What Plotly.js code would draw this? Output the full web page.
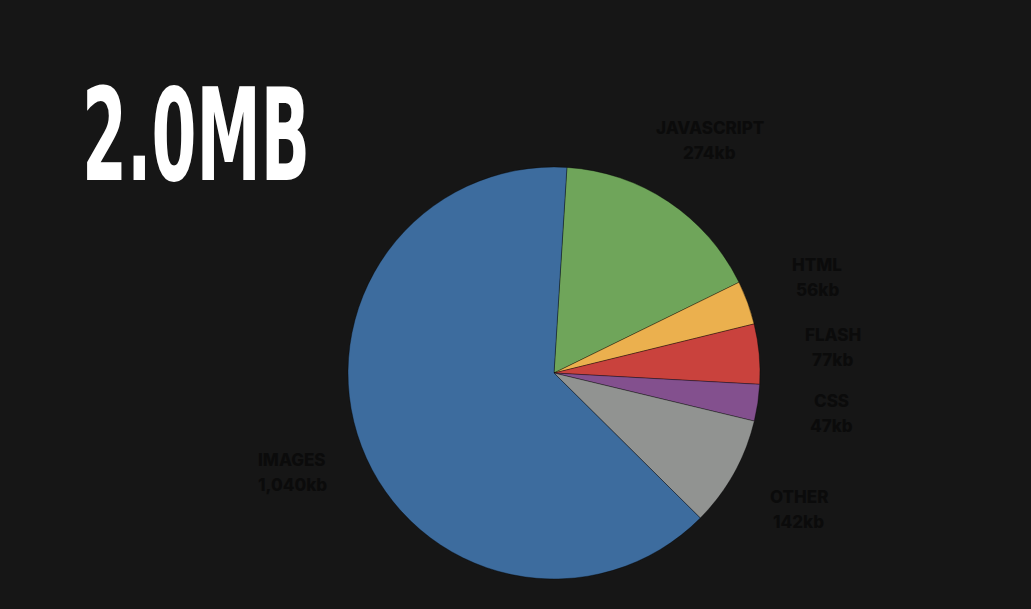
<!DOCTYPE html>
<html>
<head>
<meta charset="utf-8">
<script src="https://cdn.plot.ly/plotly-3.0.1.min.js"></script>
<style>
html,body{margin:0;padding:0;background:#161616;}
#chart{width:1031px;height:609px;}
</style>
</head>
<body>
<div id="chart"></div>
<script>
const categories = ["JAVASCRIPT", "HTML", "FLASH", "CSS", "OTHER", "IMAGES"];
const valuesKb = [274, 56, 77, 47, 142, 1040];
const valueLabels = ["274kb", "56kb", "77kb", "47kb", "142kb", "1,040kb"];
const sliceColors = ["#6fa55a", "#ebb04e", "#c9423d", "#83508e", "#919391", "#3d6c9e"];
const totalLabel = "2.0MB";

const W = 1031, H = 609;
const cx = 554, cy = 373, R = 206;
const rotationDeg = 3.6;
const labelR = 280;

const total = valuesKb.reduce((a, b) => a + b, 0);
const annotations = [];
let acc = 0;
valuesKb.forEach((v, i) => {
  const mid = rotationDeg + (acc + v / 2) / total * 360;
  acc += v;
  const t = mid * Math.PI / 180;
  const px = cx + labelR * Math.sin(t);
  const py = cy - labelR * Math.cos(t);
  const font = {family: "Inter, Roboto, 'Noto Sans', sans-serif", size: 17, color: "#0b0b0b", weight: 800};
  annotations.push({xref: "paper", yref: "paper", x: px / W, y: 1 - (py - 12.5) / H,
    text: categories[i], showarrow: false, xanchor: "center", yanchor: "middle", font: font});
  annotations.push({xref: "paper", yref: "paper", x: px / W, y: 1 - (py + 12.5) / H,
    text: valueLabels[i], showarrow: false, xanchor: "center", yanchor: "middle", font: font});
});
annotations.push({xref: "paper", yref: "paper", x: 80 / W, y: 1 - 135 / H, xanchor: "left", yanchor: "middle",
  text: totalLabel, showarrow: false,
  font: {family: "'DejaVu Sans Condensed', 'DejaVu Sans', sans-serif", size: 128, color: "#ffffff", weight: 700}});

const data = [{
  type: "pie",
  labels: categories,
  values: valuesKb,
  sort: false,
  direction: "clockwise",
  rotation: rotationDeg,
  textinfo: "none",
  hoverinfo: "label+value",
  marker: {colors: sliceColors, line: {color: "rgba(0,0,0,0.35)", width: 1}},
  domain: {x: [(cx - R) / W, (cx + R) / W], y: [1 - (cy + R) / H, 1 - (cy - R) / H]}
}];

const layout = {
  width: W, height: H,
  margin: {l: 0, r: 0, t: 0, b: 0},
  paper_bgcolor: "#161616",
  plot_bgcolor: "#161616",
  showlegend: false,
  annotations: annotations
};

Plotly.newPlot("chart", data, layout, {displayModeBar: false, staticPlot: true}).then(gd => {
  const texts = gd.querySelectorAll(".annotation-text");
  const title = texts[texts.length - 1];
  const bb = title.getBBox();
  const targetW = 228;
  const s = targetW / bb.width;
  title.setAttribute("transform", "translate(" + bb.x + ",0) scale(" + s + ",1) translate(" + (-bb.x) + ",0)");
});
</script>
</body>
</html>
